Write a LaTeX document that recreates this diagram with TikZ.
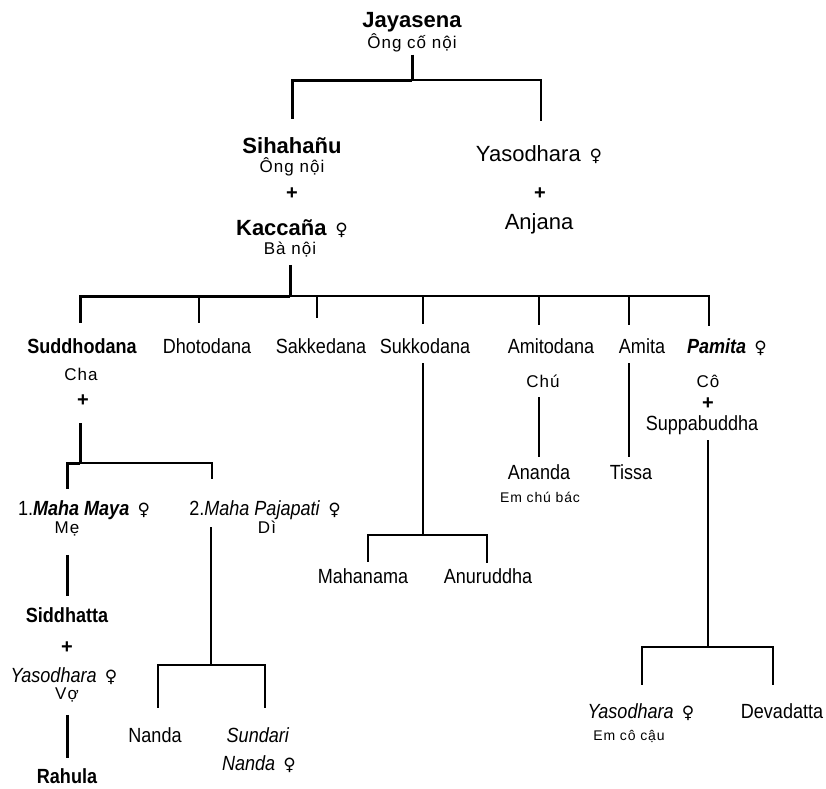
\documentclass[tikz,border=0pt]{standalone}
\usepackage{fontspec}
\setmainfont{Liberation Sans}[FakeStretch=0.88]
\newfontfamily\widefam{Liberation Sans}
\newfontfamily\subfam{Liberation Sans}[LetterSpace=6]
\newfontfamily\venusfam{DejaVu Sans}
\newcommand\fem{\hspace{0.4em}{\venusfam\mdseries\upshape\fontsize{17}{17}\selectfont ♀}}

\begin{document}
\begin{tikzpicture}[x=1pt,y=-1pt,
  every node/.style={inner sep=0pt,anchor=base},
  big/.style={font=\widefam\fontsize{22}{24}\selectfont},
  bigb/.style={font=\widefam\fontsize{22}{24}\selectfont\bfseries},
  nm/.style={font=\fontsize{20.5}{22}\selectfont},
  nmb/.style={font=\fontsize{20.5}{22}\selectfont\bfseries},
  rel/.style={font=\subfam\fontsize{17}{19}\selectfont},
  note/.style={font=\subfam\fontsize{14}{16}\selectfont},
  plus/.style={font=\widefam\fontsize{20}{22}\selectfont\bfseries,anchor=center},
  heavy/.style={line width=3pt},
  light/.style={line width=1.3pt}]
\useasboundingbox (0,0) rectangle (826,788);

% ong co noi
\node[bigb] (jaya) at (412,27) {Jayasena};
\node[rel] (jayasub) at (412,48) {Ông cố nội};

% ong noi + ba noi
\node[bigb] (sihahanu) at (292,153) {Sihahañu};
\node[rel] (sihasub) at (292,172) {Ông nội};
\node[plus] (plus1) at (292,194) {+};
\node[bigb] (kaccana) at (292,235) {Kaccaña\fem};
\node[rel] (kaccsub) at (290,254) {Bà nội};
\node[big] (yaso1) at (539,161) {Yasodhara\fem};
\node[plus] (plus2) at (540,194) {+};
\node[big] (anjana) at (539,229) {Anjana};

% con cua Sihahanu
\node[nmb] (sudd) at (82,353) {Suddhodana};
\foreach \n/\t/\x in {dhoto/Dhotodana/207,sakke/Sakkedana/321,sukko/Sukkodana/425,amito/Amitodana/551,amita/Amita/642}
  \node[nm] (\n) at (\x,353) {\t};
\node[nm] (pamita) at (727,353) {\textbf{\textit{Pamita}}\fem};

% nhanh Suddhodana
\node[rel] (cha) at (81,380) {Cha};
\node[plus] (plus3) at (83,401) {+};
\node[nm] (mahamaya) at (84,515) {1.\textbf{\textit{Maha Maya}}\fem};
\node[nm] (mahapaj) at (265,515) {2.\textit{Maha Pajapati}\fem};
\node[rel] (me) at (67,533) {Mẹ};
\node[rel] (di) at (267,533) {Dì};
\node[nmb] (siddhatta) at (67,622) {Siddhatta};
\node[plus] (plus4) at (67,648) {+};
\node[nm] (yaso2) at (64,682) {\textit{Yasodhara}\fem};
\node[rel] (vo) at (67,699) {Vợ};
\node[nmb] (rahula) at (67,783) {Rahula};
\node[nm] (nanda) at (155,742) {Nanda};
\node[nm] (sundari) at (258,742) {\textit{Sundari}};
\node[nm] (sundari2) at (259,770) {\textit{Nanda}\fem};

% cac nhanh khac
\node[nm] (mahanama) at (363,583) {Mahanama};
\node[nm] (anuruddha) at (488,583) {Anuruddha};
\node[rel] (chu) at (543,387) {Chú};
\node[nm] (ananda) at (539,479) {Ananda};
\node[note] (emchu) at (540,502) {Em chú bác};
\node[nm] (tissa) at (631,479) {Tissa};
\node[rel] (co) at (708,387) {Cô};
\node[plus] (plus5) at (708,404) {+};
\node[nm] (suppa) at (702,430) {Suppabuddha};
\node[nm] (yaso3) at (641,718) {\textit{Yasodhara}\fem};
\node[note] (emco) at (629,740) {Em cô cậu};
\node[nm] (deva) at (782,718) {Devadatta};

% nhanh
\coordinate (j1) at (412,80);
\coordinate (j2) at (290,296);
\coordinate (j3) at (80,463);
\coordinate (j4) at (211,665);
\coordinate (j5) at (423,535);
\coordinate (j6) at (708,647);

\draw[heavy,shorten <=3pt] (jayasub) -- (j1);
\draw[heavy,shorten >=18pt] (j1) -| (sihahanu.north);
\draw[light,shorten >=24pt] (j1) -| ([xshift=2pt]yaso1.north);

\draw[heavy,shorten <=8pt] (kaccsub) -- (j2);
\draw[heavy,shorten >=15pt] (j2) -| ([xshift=-2pt]sudd.north);
\foreach \n/\dx/\s in {dhoto/-8/15,sakke/-4/20,sukko/-2/14,amito/-12/13,amita/-13/13,pamita/-18/12}
  \draw[light,shorten >=\s pt] (j2) -| ([xshift=\dx pt]\n.north);

\draw[heavy,shorten <=22pt] ([xshift=-3pt]plus3.center) -- (j3);
\draw[heavy,shorten >=11pt] (j3) -| ([xshift=-17pt]mahamaya.north);
\draw[light,shorten >=21pt] (j3) -| ([xshift=-53pt]mahapaj.north);
\draw[heavy,shorten <=19pt,shorten >=11pt] (me) -- (siddhatta);
\draw[heavy,shorten <=13pt,shorten >=10pt] (vo) -- (rahula);

\draw[light,shorten <=8pt] ([xshift=-54pt]mahapaj.south) -- (j4);
\draw[light,shorten >=19pt] (j4) -| ([xshift=3pt]nanda.north);
\draw[light,shorten >=19pt] (j4) -| ([xshift=7pt]sundari.north);

\draw[light,shorten <=10pt] ([xshift=-2pt]sukko.south) -- (j5);
\draw[light,shorten >=6pt] (j5) -| ([xshift=5pt]mahanama.north);
\draw[light,shorten >=5pt] (j5) -| ([xshift=-1pt]anuruddha.north);

\draw[light,shorten <=10pt,shorten >=7pt] ([xshift=-4pt]chu.south) -- (ananda.north);
\draw[light,shorten <=10pt,shorten >=7pt] ([xshift=-13pt]amita.south) -- ([xshift=-2pt]tissa.north);

\draw[light,shorten <=6pt] ([xshift=6pt]suppa.south) -- (j6);
\draw[light,shorten >=18pt] (j6) -| ([xshift=1pt]yaso3.north);
\draw[light,shorten >=18pt] (j6) -| ([xshift=-9pt]deva.north);
\end{tikzpicture}
\end{document}
